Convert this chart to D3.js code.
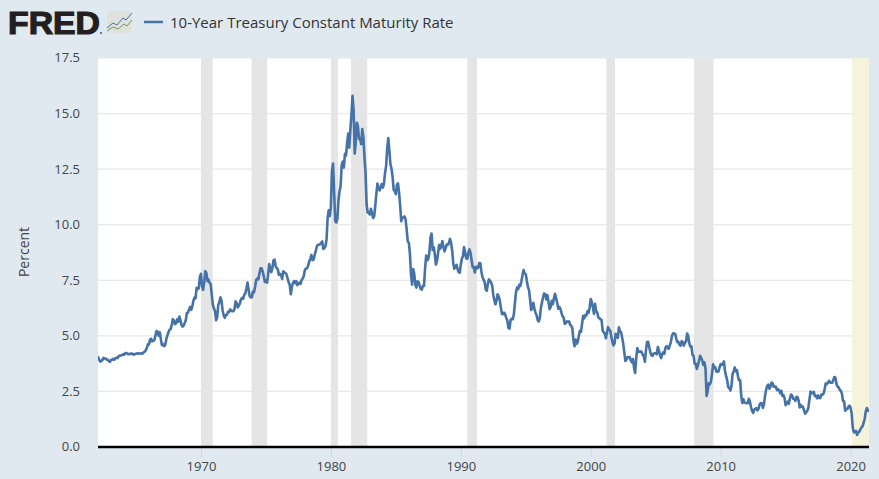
<!DOCTYPE html>
<html>
<head>
<meta charset="utf-8">
<script src="https://cdn.jsdelivr.net/npm/d3@7"></script>
<style>
  html, body { margin: 0; padding: 0; background: #e1e9f0; overflow: hidden; }
  text { font-family: "Open Sans", sans-serif; fill: #333; }
</style>
</head>
<body>
<div id="chart"></div>
<script>
var seriesName = "10-Year Treasury Constant Maturity Rate"
var axisTitle = "Percent"
var yTicks = [0, 2.5, 5, 7.5, 10, 12.5, 15, 17.5]
var xTicks = [1970, 1980, 1990, 2000, 2010, 2020]

// first month of the series, then one value per month
var startYear = 1962
var rates = [
  4.08,4.04,3.93,3.84,3.87,3.91,4.01,3.98,3.98,3.93,3.92,3.86,
  3.83,3.92,3.93,3.97,3.93,3.99,4.02,4.00,4.08,4.11,4.12,4.13,
  4.17,4.15,4.22,4.23,4.20,4.17,4.19,4.19,4.20,4.19,4.15,4.18,
  4.19,4.21,4.21,4.20,4.21,4.21,4.20,4.25,4.29,4.35,4.45,4.62,
  4.61,4.83,4.87,4.75,4.78,4.81,5.02,5.22,5.18,5.01,5.16,4.84,
  4.58,4.63,4.54,4.59,4.85,5.02,5.16,5.28,5.30,5.48,5.75,5.70,
  5.53,5.56,5.74,5.64,5.87,5.72,5.50,5.42,5.46,5.58,5.70,6.03,
  6.04,6.19,6.30,6.17,6.32,6.57,6.72,6.69,7.16,7.10,7.14,7.65,
  7.79,7.24,7.07,7.39,7.91,7.84,7.46,7.53,7.39,7.33,6.84,6.39,
  6.24,6.11,5.70,5.83,6.39,6.52,6.73,6.58,6.14,5.93,5.81,5.93,
  5.95,6.08,6.07,6.19,6.13,6.11,6.11,6.21,6.55,6.48,6.28,6.36,
  6.46,6.64,6.71,6.67,6.85,6.90,7.13,7.40,7.09,6.79,6.73,6.74,
  6.99,6.96,7.21,7.51,7.58,7.54,7.81,8.04,8.04,7.90,7.68,7.43,
  7.50,7.39,7.73,8.23,8.06,7.86,8.06,8.40,8.43,8.14,8.05,8.00,
  7.74,7.79,7.73,7.56,7.90,7.86,7.83,7.77,7.59,7.41,7.29,6.87,
  7.21,7.39,7.46,7.37,7.46,7.28,7.33,7.40,7.34,7.52,7.58,7.69,
  7.96,8.03,8.04,8.15,8.35,8.46,8.64,8.41,8.42,8.64,8.81,9.01,
  9.10,9.10,9.12,9.18,9.25,8.91,8.95,9.03,9.33,10.30,10.65,10.39,
  10.80,12.41,12.75,11.47,10.18,10.10,10.25,11.10,11.51,11.75,12.68,12.84,
  12.57,13.19,13.12,13.68,14.10,13.47,14.28,14.94,15.80,15.15,13.20,13.72,
  14.59,14.43,13.86,13.87,13.62,14.30,13.95,13.06,12.34,10.91,10.55,10.54,
  10.46,10.72,10.51,10.30,10.38,10.85,11.38,11.85,11.65,11.54,11.69,11.83,
  11.67,11.84,12.32,12.63,13.41,13.90,13.36,12.72,12.52,12.16,11.57,11.50,
  11.38,11.80,11.86,11.43,10.85,10.16,10.31,10.33,10.37,10.24,9.78,9.26,
  9.19,8.70,7.78,7.30,8.00,7.80,7.30,7.17,7.45,7.43,7.25,7.11,
  7.08,7.25,7.25,8.02,8.61,8.40,8.45,8.76,9.42,9.60,8.86,8.99,
  8.67,8.21,8.37,8.72,9.09,8.92,9.06,9.26,8.98,8.80,8.96,9.11,
  9.09,9.17,9.36,9.18,8.86,8.28,8.02,8.11,8.19,8.01,7.87,7.84,
  8.21,8.47,8.59,8.99,8.76,8.48,8.47,8.75,8.89,8.72,8.39,8.08,
  8.09,7.85,8.11,8.04,8.07,8.28,8.27,7.90,7.65,7.53,7.42,7.09,
  7.03,7.34,7.54,7.48,7.39,7.26,6.84,6.59,6.42,6.59,6.87,6.77,
  6.60,6.26,5.98,5.97,6.04,5.96,5.81,5.68,5.36,5.33,5.72,5.77,
  5.75,5.97,6.48,6.97,7.18,7.10,7.30,7.24,7.46,7.74,7.96,7.81,
  7.78,7.47,7.20,7.06,6.63,6.17,6.28,6.49,6.20,6.04,5.93,5.71,
  5.65,5.81,6.27,6.51,6.74,6.91,6.87,6.64,6.83,6.53,6.20,6.30,
  6.58,6.42,6.69,6.89,6.71,6.49,6.22,6.30,6.21,6.03,5.88,5.81,
  5.54,5.57,5.65,5.64,5.65,5.50,5.46,5.34,4.81,4.53,4.83,4.65,
  4.72,5.00,5.23,5.18,5.54,5.90,5.79,5.94,5.92,6.11,6.03,6.28,
  6.66,6.52,6.26,5.99,6.44,6.10,6.05,5.83,5.80,5.74,5.72,5.24,
  5.16,5.10,4.89,5.14,5.39,5.28,5.24,4.97,4.73,4.57,4.65,5.09,
  5.04,4.91,5.38,5.21,5.16,4.93,4.65,4.26,3.87,3.94,4.05,4.03,
  4.05,3.90,3.81,3.96,3.57,3.33,3.98,4.45,4.27,4.29,4.30,4.27,
  4.15,4.08,3.83,4.35,4.72,4.73,4.50,4.28,4.13,4.10,4.19,4.23,
  4.22,4.17,4.50,4.34,4.14,4.00,4.18,4.26,4.20,4.46,4.54,4.47,
  4.42,4.57,4.72,4.99,5.11,5.11,5.09,4.88,4.72,4.73,4.60,4.56,
  4.76,4.72,4.56,4.69,4.75,5.10,5.00,4.67,4.52,4.53,4.15,4.10,
  3.74,3.74,3.51,3.68,3.88,4.10,4.01,3.89,3.69,3.81,3.53,2.30,
  2.52,2.87,2.82,2.93,3.29,3.72,3.56,3.59,3.40,3.39,3.40,3.59,
  3.73,3.69,3.73,3.85,3.42,3.20,3.01,2.70,2.65,2.54,2.76,3.29,
  3.39,3.58,3.41,3.46,3.17,3.00,3.00,2.30,1.98,2.15,2.01,1.98,
  1.97,1.97,2.17,2.05,1.80,1.62,1.53,1.68,1.72,1.75,1.65,1.72,
  1.91,1.98,1.96,1.76,1.93,2.30,2.58,2.74,2.81,2.62,2.72,2.90,
  2.86,2.71,2.72,2.71,2.56,2.60,2.54,2.42,2.53,2.30,2.33,2.21,
  1.88,1.98,2.04,1.94,2.20,2.36,2.32,2.17,2.17,2.07,2.26,2.24,
  2.09,1.78,1.89,1.81,1.81,1.64,1.50,1.56,1.63,1.76,2.14,2.49,
  2.43,2.42,2.48,2.30,2.30,2.19,2.32,2.21,2.20,2.36,2.35,2.40,
  2.58,2.86,2.84,2.87,2.98,2.91,2.89,2.89,3.00,3.15,3.12,2.83,
  2.71,2.68,2.57,2.53,2.40,2.07,2.06,1.63,1.70,1.71,1.81,1.86,
  1.76,1.50,0.87,0.66,0.67,0.73,0.54,0.65,0.68,0.79,0.87,0.93,
  1.08,1.26,1.60,1.75,1.65,1.59
]

// recessions, as [start, end] in decimal years
var recessions = [
  [1970.0, 1970.9], [1973.9, 1975.1], [1980.0, 1980.55], [1981.55, 1982.8],
  [1990.5, 1991.25], [2001.2, 2001.87], [2007.95, 2009.45]
]
var highlight = [2020.1, 2021.42]

var w = 879
var h = 479
var plotLeft = 98, plotRight = 869, plotTop = 58, plotBottom = 447

var svg = d3.select("#chart").append("svg")
  .attr("width", w)
  .attr("height", h)
  .style("display", "block")

var data = rates.map(function(d, i) { return { year: startYear + i / 12, value: d } })

var x = d3.scaleLinear().domain([startYear, startYear + (rates.length - 1) / 12]).range([97, 869])
var y = d3.scaleLinear().domain([0, 17.5]).range([plotBottom, plotTop])

svg.append("clipPath").attr("id", "plot-clip")
  .append("rect")
  .attr("x", plotLeft).attr("y", plotTop)
  .attr("width", plotRight - plotLeft).attr("height", plotBottom - plotTop)

svg.append("rect")
  .attr("x", plotLeft).attr("y", plotTop)
  .attr("width", plotRight - plotLeft).attr("height", plotBottom - plotTop)
  .attr("fill", "#fff")

svg.selectAll(".grid")
  .data(yTicks.slice(1))
  .join("line")
  .attr("x1", plotLeft).attr("x2", plotRight)
  .attr("y1", function(d) { return y(d) })
  .attr("y2", function(d) { return y(d) })
  .attr("stroke", "#e8e8e8")
  .attr("stroke-width", 1.2)

svg.selectAll(".recession")
  .data(recessions)
  .join("rect")
  .attr("x", function(d) { return x(d[0]) })
  .attr("y", plotTop)
  .attr("width", function(d) { return x(d[1]) - x(d[0]) })
  .attr("height", plotBottom - plotTop)
  .attr("fill", "#e5e5e5")

svg.append("rect")
  .attr("x", x(highlight[0]))
  .attr("y", plotTop)
  .attr("width", plotRight - x(highlight[0]))
  .attr("height", plotBottom - plotTop)
  .attr("fill", "#f5f3d9")

var line = d3.line()
  .x(function(d) { return x(d.year) })
  .y(function(d) { return y(d.value) })

svg.append("path")
  .attr("d", line(data))
  .attr("fill", "none")
  .attr("stroke", "#4572a7")
  .attr("stroke-width", 2.6)
  .attr("stroke-linejoin", "round")
  .attr("clip-path", "url(#plot-clip)")

// axes
var yAxis = svg.append("g")
  .attr("transform", "translate(" + plotLeft + ",0)")
  .call(d3.axisLeft(y).tickValues(yTicks).tickFormat(d3.format(".1f")).tickSize(0).tickPadding(18))
yAxis.select(".domain").remove()
yAxis.selectAll("text").style("font-size", "13px").style("fill", "#444").attr("dy", "0.3em")

var xAxis = svg.append("g")
  .attr("transform", "translate(0," + plotBottom + ")")
  .call(d3.axisBottom(x).tickValues(xTicks).tickFormat(d3.format("d")).tickSize(10).tickPadding(5))
xAxis.select(".domain").remove()
xAxis.selectAll("line").attr("stroke", "#ccd6eb")
xAxis.selectAll("text").style("font-size", "13px").style("fill", "#444")

svg.append("line")
  .attr("x1", plotLeft).attr("x2", plotRight)
  .attr("y1", plotBottom).attr("y2", plotBottom)
  .attr("stroke", "#000").attr("stroke-width", 2.5)

svg.append("text")
  .attr("transform", "translate(29,252) rotate(-90)")
  .attr("text-anchor", "middle")
  .style("font-size", "14px")
  .style("fill", "#444")
  .text(axisTitle)

// legend
svg.append("line")
  .attr("x1", 144).attr("x2", 163)
  .attr("y1", 22).attr("y2", 22)
  .attr("stroke", "#4572a7").attr("stroke-width", 2.5)

svg.append("text")
  .attr("x", 170).attr("y", 28)
  .style("font-size", "15px")
  .text(seriesName)

// FRED logo
svg.append("text")
  .attr("x", 8).attr("y", 34)
  .attr("textLength", 92)
  .attr("lengthAdjust", "spacingAndGlyphs")
  .style("font-family", "'Liberation Sans', sans-serif")
  .style("font-weight", "bold")
  .style("font-size", "32px")
  .style("fill", "#231f20")
  .style("stroke", "#231f20")
  .style("stroke-width", "1.2px")
  .text("FRED")

svg.append("circle")
  .attr("cx", 101).attr("cy", 33).attr("r", 1)
  .attr("fill", "#555")

svg.append("rect")
  .attr("x", 107).attr("y", 11)
  .attr("width", 25).attr("height", 22)
  .attr("rx", 2)
  .attr("fill", "#dfe2dc")

var logoLines = [
  { color: "#4572a7", pts: [[107, 28], [113, 23], [117, 25], [123, 18], [126, 20], [132, 13]] },
  { color: "#6f9a5a", pts: [[107, 31], [113, 27], [118, 29], [124, 24], [127, 26], [132, 20]] }
]
svg.selectAll(".logoline")
  .data(logoLines)
  .join("path")
  .attr("d", function(d) { return d3.line()(d.pts) })
  .attr("fill", "none")
  .attr("stroke", function(d) { return d.color })
  .attr("stroke-width", 1)
</script>
</body>
</html>
